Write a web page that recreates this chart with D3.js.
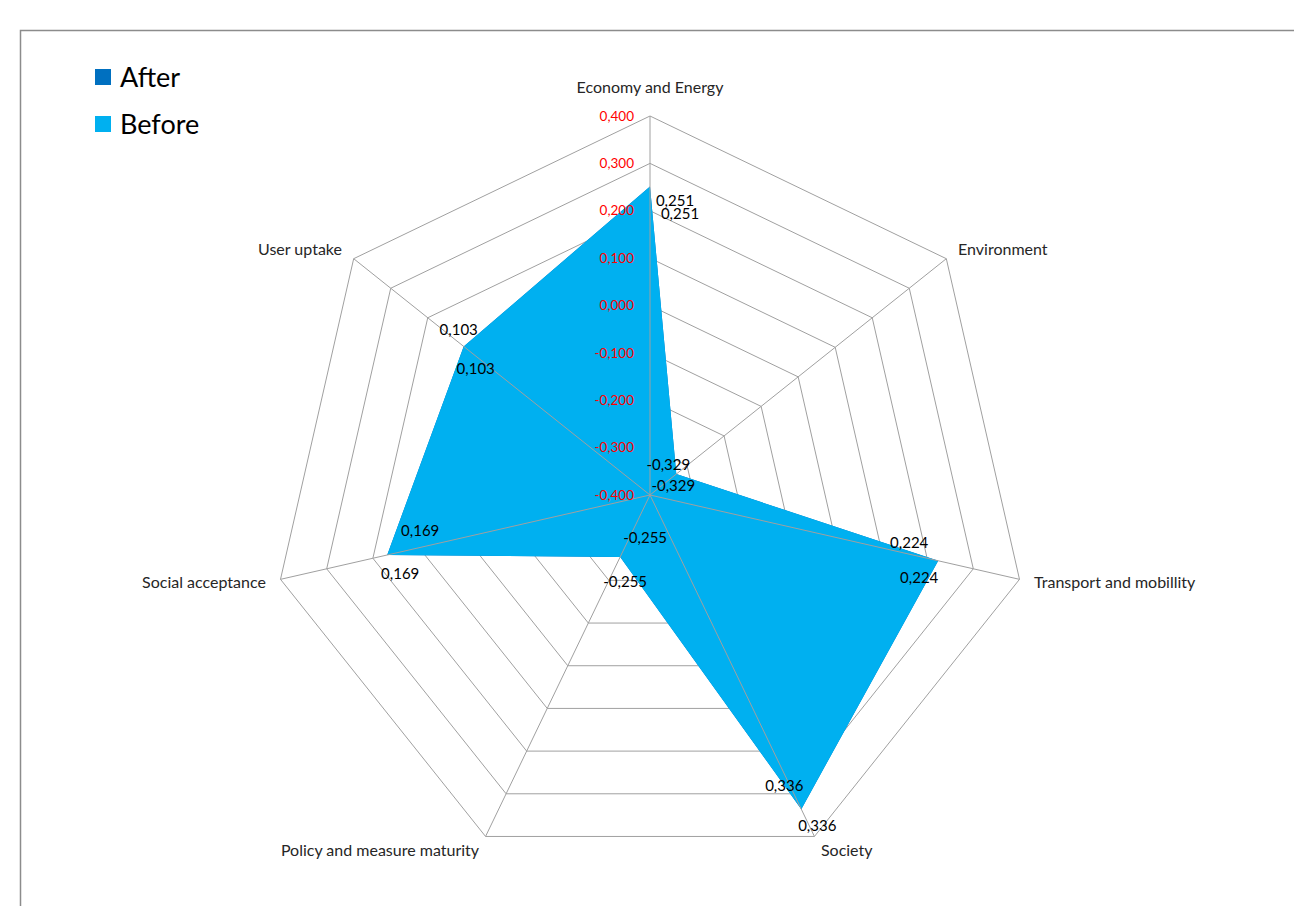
<!DOCTYPE html>
<html>
<head>
<meta charset="utf-8">
<script src="https://cdn.jsdelivr.net/npm/d3@7"></script>
<style>
  body { margin: 0; background: #fff; }
  svg text { font-family: Lato, "Open Sans", sans-serif; }
</style>
</head>
<body>
<div id="container"></div>
<script>
// Categories (axes of the radar), clockwise from top
const categories = ['Economy and Energy', 'Environment', 'Transport and mobillity', 'Society',
    'Policy and measure maturity', 'Social acceptance', 'User uptake'];

// Series values (both series carry the same numbers)
const afterValues = [0.251, -0.329, 0.224, 0.336, -0.255, 0.169, 0.103];
const beforeValues = [0.251, -0.329, 0.224, 0.336, -0.255, 0.169, 0.103];

// Radial tick values
const tickValues = [-0.4, -0.3, -0.2, -0.1, 0.0, 0.1, 0.2, 0.3, 0.4];

const seriesNames = ['After', 'Before'];
const seriesColors = ['#0070C0', '#00B0F0'];

// Data label nudges (layout only), one per axis and series
const labelNudge = {
    After: [[25, 14], [-8, -9], [-29, -18], [-17, -23], [25, -19], [33, -24], [-5, -17]],
    Before: [[30, 27], [-3, 12], [-19, 17], [16, 17], [5, 25], [13, 19], [12, 22]]
};

const width = 1294;
const height = 906;
const center = { x: 650, y: 495 };
const radius = 379;

const locale = d3.formatLocale({ decimal: ',', thousands: '.', grouping: [3], currency: ['', ''], minus: '-' });
const fmt = locale.format('.3f');

const svg = d3.select('#container').append('svg')
    .attr('width', width)
    .attr('height', height);

// Frame
svg.append('path')
    .attr('d', 'M20.5,' + height + 'V30.5H' + width)
    .attr('fill', 'none')
    .attr('stroke', '#8c8c8c')
    .attr('stroke-width', 1.5);

const rScale = d3.scaleLinear()
    .domain([-0.4, 0.4])
    .range([0, radius]);

const angle = i => (-90 + i * 360 / categories.length) * Math.PI / 180;
const pt = (i, v) => [center.x + rScale(v) * Math.cos(angle(i)), center.y + rScale(v) * Math.sin(angle(i))];

// Rings
const ringLine = d3.line().curve(d3.curveLinearClosed);
svg.append('g')
    .selectAll('path')
    .data(tickValues.slice(1))
    .enter()
    .append('path')
    .attr('d', t => ringLine(categories.map((c, i) => pt(i, t))))
    .attr('fill', 'none')
    .attr('stroke', '#a0a0a0')
    .attr('stroke-width', 1);

// Filled series
const series = [afterValues, beforeValues];
svg.append('g')
    .selectAll('path')
    .data(series)
    .enter()
    .append('path')
    .attr('d', vals => ringLine(vals.map((v, i) => pt(i, v))))
    .attr('fill', (d, i) => seriesColors[i]);

// Spokes
svg.append('g')
    .selectAll('line')
    .data(categories)
    .enter()
    .append('line')
    .attr('x1', center.x)
    .attr('y1', center.y)
    .attr('x2', (d, i) => pt(i, 0.4)[0])
    .attr('y2', (d, i) => pt(i, 0.4)[1])
    .attr('stroke', '#a0a0a0')
    .attr('stroke-width', 1);

// Tick labels (red)
svg.append('g')
    .selectAll('text')
    .data(tickValues)
    .enter()
    .append('text')
    .attr('x', center.x - 16)
    .attr('y', t => center.y - rScale(t))
    .attr('dy', '0.35em')
    .attr('text-anchor', 'end')
    .attr('font-size', 13.5)
    .attr('fill', '#ff0000')
    .text(t => fmt(t));

// Category labels
svg.append('g')
    .selectAll('text')
    .data(categories)
    .enter()
    .append('text')
    .attr('x', (d, i) => center.x + (radius + 15) * Math.cos(angle(i)))
    .attr('y', (d, i) => center.y + (radius + 15) * Math.sin(angle(i)) + (Math.abs(Math.cos(angle(i))) < 0.1 ? -14 : 0))
    .attr('dy', '0.35em')
    .attr('text-anchor', (d, i) => {
        const c = Math.cos(angle(i));
        return Math.abs(c) < 0.1 ? 'middle' : (c > 0 ? 'start' : 'end');
    })
    .attr('font-size', 16)
    .attr('fill', '#262626')
    .text(d => d);

// Data labels
seriesNames.forEach((name, s) => {
    svg.append('g')
        .selectAll('text')
        .data(series[s])
        .enter()
        .append('text')
        .attr('x', (v, i) => pt(i, v)[0] + labelNudge[name][i][0])
        .attr('y', (v, i) => pt(i, v)[1] + labelNudge[name][i][1])
        .attr('dy', '0.35em')
        .attr('text-anchor', 'middle')
        .attr('font-size', 15)
        .attr('fill', '#000')
        .text(v => fmt(v));
});

// Legend
const legend = svg.append('g')
    .selectAll('g')
    .data(seriesNames)
    .enter()
    .append('g')
    .attr('transform', (d, i) => 'translate(95,' + (69 + i * 47) + ')');

legend.append('rect')
    .attr('width', 16)
    .attr('height', 16)
    .attr('fill', (d, i) => seriesColors[i]);

legend.append('text')
    .attr('x', 25)
    .attr('y', 8)
    .attr('dy', '0.36em')
    .attr('font-size', 27)
    .attr('fill', '#000')
    .text(d => d);
</script>
</body>
</html>
